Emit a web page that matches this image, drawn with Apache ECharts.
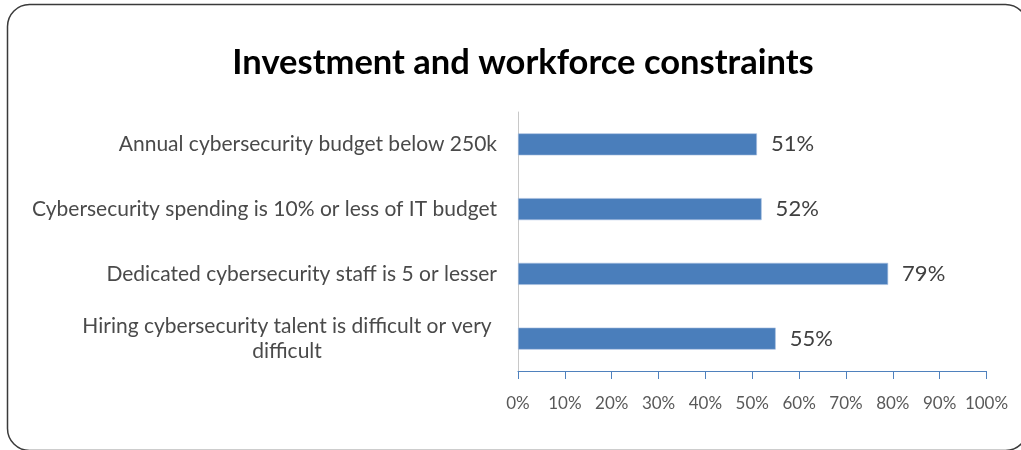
<!DOCTYPE html>
<html>
<head>
<meta charset="utf-8">
<script src="https://cdn.jsdelivr.net/npm/echarts@6/dist/echarts.min.js"></script>
<style>
  html, body { margin: 0; padding: 0; background: #ffffff; }
  #chart { width: 1021px; height: 450px; }
</style>
</head>
<body>
<div id="chart"></div>
<script>
// Survey categories (top to bottom) and their shares in percent
const categories = [
  'Annual cybersecurity budget below 250k',
  'Cybersecurity spending is 10% or less of IT budget',
  'Dedicated cybersecurity staff is 5 or lesser',
  'Hiring cybersecurity talent is difficult or very\ndifficult'
];
const shares = [51, 52, 79, 55];
const tickValues = [0, 10, 20, 30, 40, 50, 60, 70, 80, 90, 100];

const FONT = 'Lato';
const chart = echarts.init(document.getElementById('chart'), null, { renderer: 'canvas' });

// category axis runs bottom-up, so reverse to keep the first item on top
const catData = categories.slice().reverse().map(function (c) {
  return { value: c };
});
const valData = shares.slice().reverse();

chart.setOption({
  animation: false,
  title: {
    text: 'Investment and workforce constraints',
    left: 518,
    top: 40,
    textAlign: 'center',
    textStyle: { fontFamily: FONT, fontWeight: 'bold', fontSize: 34.5, color: '#000000' }
  },
  graphic: [{
    type: 'rect',
    shape: { x: 7.5, y: 4.5, width: 1020, height: 446, r: 22 },
    style: { fill: 'none', stroke: '#3a3a3a', lineWidth: 1.5 },
    silent: true,
    z: -1
  }],
  grid: { left: 518, right: 34.5, top: 112, bottom: 79, containLabel: false },
  xAxis: {
    type: 'value',
    min: tickValues[0],
    max: tickValues[tickValues.length - 1],
    interval: 10,
    axisLine: { show: true, lineStyle: { color: '#4f81bd', width: 1 } },
    axisTick: { show: true, length: 8, lineStyle: { color: '#4f81bd' } },
    splitLine: { show: false },
    axisLabel: {
      margin: 24,
      formatter: '{value}%',
      fontFamily: FONT,
      fontSize: 17,
      color: '#595959'
    }
  },
  yAxis: {
    type: 'category',
    data: catData,
    axisLine: { show: true, lineStyle: { color: '#c8c8c8', width: 1 } },
    axisTick: { show: false },
    axisLabel: {
      margin: 21,
      fontFamily: FONT,
      fontSize: 21,
      color: '#4a4a4a',
      align: 'right',
      formatter: function (v) {
        return v.indexOf('\n') >= 0 ? '{w|' + v.replace('\n', '}\n{w|') + '}' : v;
      },
      rich: {
        w: { width: 420, align: 'center', fontFamily: FONT, fontSize: 21, color: '#4a4a4a', lineHeight: 25 }
      }
    }
  },
  series: [{
    type: 'bar',
    data: valData,
    barWidth: '34%',
    itemStyle: { color: '#4a7ebb', borderColor: '#a7c0e0', borderWidth: 0.6 },
    label: {
      show: true,
      position: 'right',
      distance: 14,
      formatter: '{c}%',
      fontFamily: FONT,
      fontSize: 22,
      color: '#404040'
    }
  }]
});
</script>
</body>
</html>
